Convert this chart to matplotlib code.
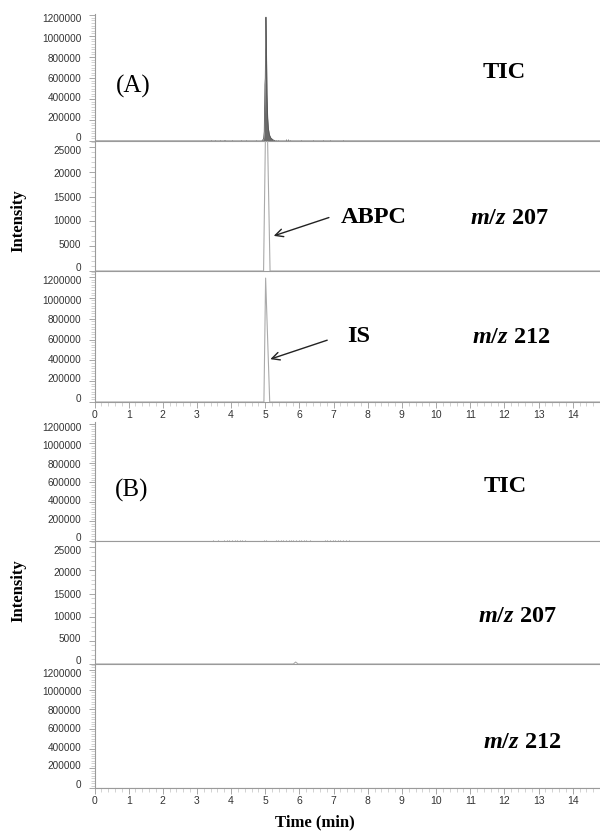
import matplotlib
matplotlib.use("Agg")
import matplotlib.pyplot as plt
import matplotlib.transforms as mtransforms
from matplotlib.ticker import MultipleLocator, NullFormatter, FormatStrFormatter

plt.rcParams["font.family"] = ["Liberation Sans", "DejaVu Sans"]
plt.rcParams["mathtext.fontset"] = "custom"
plt.rcParams["mathtext.it"] = "Liberation Serif:italic:bold"
plt.rcParams["mathtext.rm"] = "Liberation Serif:bold"

AXIS_GREY = "#9a9a9a"
TICK_TEXT = "#333333"
SERIF = "Liberation Serif"

# ---- data (time in min, intensity in counts) ----
# (A) spiked sample
tic_a_time = [0.0, 4.90, 4.95, 4.97, 4.99, 5.00, 5.02, 5.03, 5.05, 5.07, 5.09, 5.12, 5.16, 5.22, 5.30, 14.8]
tic_a_int = [0, 0, 20000, 90000, 540000, 600000, 1180000, 980000, 450000, 220000, 120000, 60000, 30000, 12000, 0, 0]
tic_a_noise_t = [3.41, 3.54, 3.67, 3.79, 3.82, 4.03, 4.30, 4.45, 4.74, 5.18, 5.24, 5.30, 5.37,
                 5.62, 5.66, 5.72, 6.06, 6.40, 6.69, 6.89, 7.27]
tic_a_noise_h = [9000, 9000, 12000, 14000, 12000, 9000, 12000, 9000, 9000, 14000, 12000, 12000, 9000,
                 16000, 18000, 14000, 9000, 9000, 9000, 9000, 9000]

mz207_a_time = [0.0, 4.95, 5.03, 5.14, 14.8]
mz207_a_int = [0, 0, 40000, 0, 0]

mz212_a_time = [0.0, 4.96, 5.01, 5.13, 14.8]
mz212_a_int = [0, 0, 1190000, 0, 0]

# (B) blank sample
tic_b_time = [0.0, 14.8]
tic_b_int = [0, 0]
tic_b_noise_t = [3.46, 3.62, 3.80, 3.88, 3.95, 4.02, 4.10, 4.18, 4.25, 4.33, 4.40,
                 4.95, 5.02, 5.30, 5.38, 5.45, 5.52, 5.60, 5.68, 5.75, 5.82, 5.90,
                 5.98, 6.05, 6.12, 6.20, 6.30, 6.75, 6.82, 6.90, 6.97, 7.05, 7.12,
                 7.20, 7.28, 7.36, 7.45]
tic_b_noise_h = [8000, 8000, 12000, 14000, 12000, 14000, 12000, 14000, 12000, 10000, 12000,
                 10000, 10000, 12000, 14000, 12000, 14000, 14000, 12000, 14000, 12000, 14000,
                 12000, 14000, 12000, 10000, 12000, 12000, 14000, 14000, 12000, 14000, 14000,
                 12000, 12000, 10000, 8000]

mz207_b_time = [0.0, 5.82, 5.89, 5.96, 14.8]
mz207_b_int = [0, 0, 420, 0, 0]

mz212_b_time = [0.0, 14.8]
mz212_b_int = [0, 0]

x_ticks = list(range(0, 15))
big_ticks = [0, 200000, 400000, 600000, 800000, 1000000, 1200000]
small_ticks = [0, 5000, 10000, 15000, 20000, 25000]

W, H = 600, 831
fig = plt.figure(figsize=(W / 100, H / 100), dpi=100)


def px(x, y):
    return x / W, 1 - y / H


def make_axes(top, bottom, ymax, yticks, minor, show_x):
    ax = fig.add_axes([94.5 / W, 1 - bottom / H, 1 - 94.5 / W, (bottom - top) / H])
    ax.set_xlim(0, 14.8)
    ax.set_ylim(0, ymax)
    for side in ("top", "right"):
        ax.spines[side].set_visible(False)
    for side in ("left", "bottom"):
        ax.spines[side].set_color(AXIS_GREY)
        ax.spines[side].set_linewidth(0.8)
    ax.set_yticks(yticks)
    ax.yaxis.set_major_formatter(FormatStrFormatter("%d"))
    ax.yaxis.set_minor_locator(MultipleLocator(minor))
    ax.tick_params(axis="y", which="major", length=4, width=0.6, color=AXIS_GREY,
                   labelsize=7.2, labelcolor=TICK_TEXT, pad=5.5)
    ax.tick_params(axis="y", which="minor", length=3, width=0.5, color="#c0c0c0")
    # labels sit a little inside the panel, as in the original software output
    for val, lab in zip(yticks, ax.get_yticklabels()):
        shift = (4 - 7 * val / yticks[-1]) / 100
        lab.set_transform(lab.get_transform()
                          + mtransforms.ScaledTranslation(0, shift, fig.dpi_scale_trans))
    if show_x:
        ax.set_xticks(x_ticks)
        ax.xaxis.set_minor_locator(MultipleLocator(0.2))
        ax.tick_params(axis="x", which="major", length=4, width=0.6, color=AXIS_GREY,
                       labelsize=7.5, labelcolor=TICK_TEXT, pad=2)
        ax.tick_params(axis="x", which="minor", length=3, width=0.5, color="#c0c0c0")
    else:
        ax.set_xticks([])
        ax.xaxis.set_minor_formatter(NullFormatter())
    ax.patch.set_alpha(0)
    return ax


# ---- (A) ----
ax1 = make_axes(14, 141, 1210000, big_ticks, 25000, False)
ax1.fill_between(tic_a_time, tic_a_int, color="#6a6a6a", lw=0)
ax1.plot(tic_a_time, tic_a_int, color="#555555", lw=0.6)
ax1.vlines(tic_a_noise_t, 0, tic_a_noise_h, color="#777777", lw=0.6)

ax2 = make_axes(141, 271, 26200, small_ticks, 1000, False)
ax2.plot(mz207_a_time, mz207_a_int, color="#aaaaaa", lw=0.8)
ax2.annotate("", xy=(5.17, 6900), xytext=(6.94, 10950),
             arrowprops=dict(arrowstyle="->", color="#222222", lw=1.0, mutation_scale=14))
ax2.text(7.21, 10700, "ABPC", family=SERIF, weight="bold", fontsize=17.5, va="center", ha="left")

ax3 = make_axes(271, 402, 1258000, big_ticks, 25000, True)
ax3.plot(mz212_a_time, mz212_a_int, color="#aaaaaa", lw=0.8)
ax3.annotate("", xy=(5.07, 403000), xytext=(6.89, 602000),
             arrowprops=dict(arrowstyle="->", color="#222222", lw=1.0, mutation_scale=14))
ax3.text(7.39, 627000, "IS", family=SERIF, weight="bold", fontsize=17.5, va="center", ha="left")

# ---- (B) ----
ax4 = make_axes(422, 541, 1220000, big_ticks, 25000, False)
ax4.plot(tic_b_time, tic_b_int, color="#aaaaaa", lw=0.8)
ax4.vlines(tic_b_noise_t, 0, tic_b_noise_h, color="#888888", lw=0.6)

ax5 = make_axes(541, 664, 26280, small_ticks, 1000, False)
ax5.plot(mz207_b_time, mz207_b_int, color="#aaaaaa", lw=0.8)

ax6 = make_axes(664, 788, 1260000, big_ticks, 25000, True)
ax6.plot(mz212_b_time, mz212_b_int, color="#aaaaaa", lw=0.8)

# ---- labels ----
label_kw = dict(family=SERIF, weight="bold", fontsize=17.5, ha="center", va="center")
fig.text(*px(504, 72), "TIC", **label_kw)
fig.text(*px(509, 218), r"$m/z$ 207", **label_kw)
fig.text(*px(511, 338), r"$m/z$ 212", **label_kw)
fig.text(*px(505, 487), "TIC", **label_kw)
fig.text(*px(517, 616), r"$m/z$ 207", **label_kw)
fig.text(*px(522, 743), r"$m/z$ 212", **label_kw)

fig.text(*px(133, 86), "(A)", family=SERIF, fontsize=18, ha="center", va="center")
fig.text(*px(132, 490), "(B)", family=SERIF, fontsize=18, ha="center", va="center")

fig.text(*px(18, 221), "Intensity", family=SERIF, weight="bold", fontsize=12,
         rotation=90, ha="center", va="center")
fig.text(*px(18, 591), "Intensity", family=SERIF, weight="bold", fontsize=12,
         rotation=90, ha="center", va="center")
fig.text(*px(315, 822), "Time (min)", family=SERIF, weight="bold", fontsize=12,
         ha="center", va="center")

fig.savefig("out.png", dpi=100, facecolor="white")
